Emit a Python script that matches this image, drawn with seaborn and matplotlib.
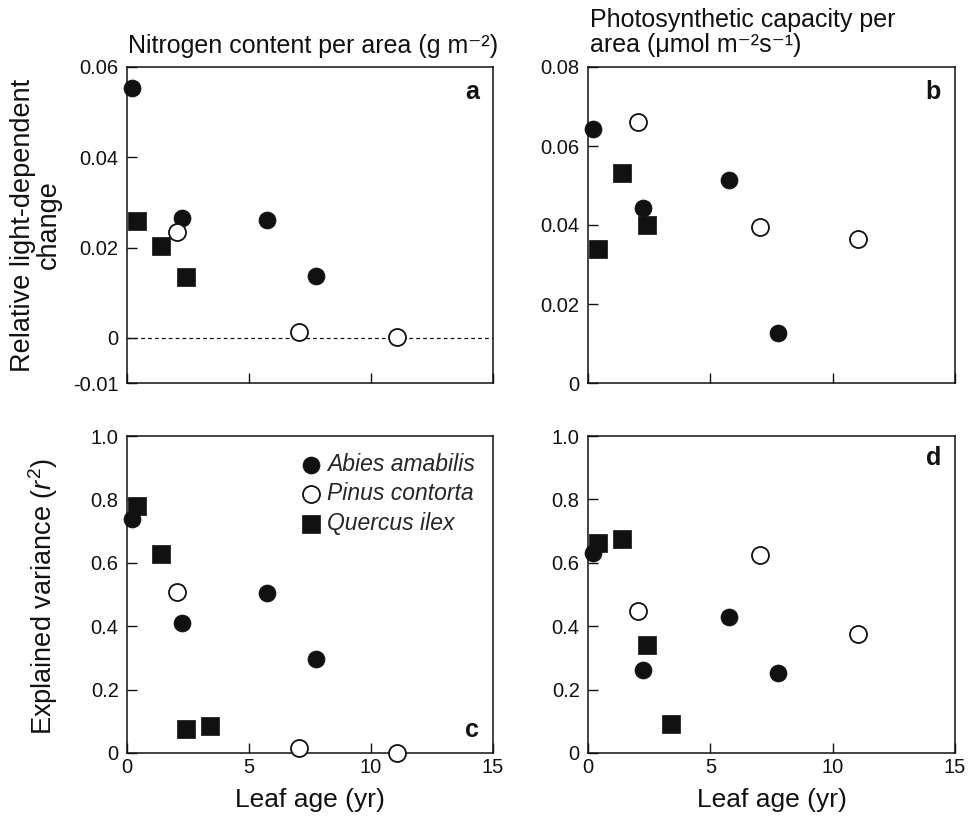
import numpy as np
import pandas as pd
import matplotlib
matplotlib.use("Agg")
import matplotlib.pyplot as plt
import seaborn as sns

# ---------------- data ----------------
species = ["Abies amabilis", "Pinus contorta", "Quercus ilex"]
age_abies = [0.2, 2.25, 5.75, 7.75]
age_pinus = [2.05, 7.05, 11.05]
age_quercus = [0.4, 1.4, 2.4, 3.4]

# a: relative light-dependent change, N per area
abies_a = [0.0553, 0.0266, 0.0262, 0.0138]
pinus_a = [0.0234, 0.0014, 0.0002]
quercus_a = [0.0258, 0.0204, 0.0134, np.nan]
# b: relative light-dependent change, photosynthetic capacity per area
abies_b = [0.0643, 0.0444, 0.0514, 0.0127]
pinus_b = [0.0662, 0.0395, 0.0364]
quercus_b = [0.0340, 0.0531, 0.0401, np.nan]
# c: explained variance, N per area
abies_c = [0.738, 0.41, 0.505, 0.296]
pinus_c = [0.508, 0.016, 0.0]
quercus_c = [0.78, 0.628, 0.076, 0.085]
# d: explained variance, photosynthetic capacity per area
abies_d = [0.63, 0.262, 0.428, 0.252]
pinus_d = [0.448, 0.625, 0.375]
quercus_d = [0.663, 0.675, 0.34, 0.09]

xticks = [0, 5, 10, 15]
yticks_a = [-0.01, 0, 0.02, 0.04, 0.06]
yticklabels_a = ["-0.01", "0", "0.02", "0.04", "0.06"]
yticks_b = [0, 0.02, 0.04, 0.06, 0.08]
yticklabels_b = ["0", "0.02", "0.04", "0.06", "0.08"]
yticks_cd = [0, 0.2, 0.4, 0.6, 0.8, 1.0]
yticklabels_cd = ["0", "0.2", "0.4", "0.6", "0.8", "1.0"]

# ---------------- style ----------------
sns.set_theme(style="ticks")
plt.rcParams["font.family"] = ["Liberation Sans", "DejaVu Sans"]
plt.rcParams["mathtext.fontset"] = "custom"
plt.rcParams["mathtext.rm"] = "Liberation Sans"
plt.rcParams["mathtext.it"] = "Liberation Sans:italic"
plt.rcParams["mathtext.bf"] = "Liberation Sans:bold"
plt.rcParams["axes.unicode_minus"] = False

W, H = 971, 824
fig = plt.figure(figsize=(W / 100, H / 100), dpi=100)


def ax_at(l, t, r, b):
    return fig.add_axes([l / W, 1 - b / H, (r - l) / W, (b - t) / H])


ax_a = ax_at(127, 67, 493, 383)
ax_b = ax_at(588, 67, 955, 383)
ax_c = ax_at(127, 436, 493, 753)
ax_d = ax_at(588, 436, 955, 753)

MS_C = 150
MS_S = 165


def draw(ax, ya, yp, yq, legend=False):
    dq = pd.DataFrame({"age": age_quercus, "val": yq})
    da = pd.DataFrame({"age": age_abies, "val": ya})
    dp = pd.DataFrame({"age": age_pinus, "val": yp})
    sns.scatterplot(data=dq, x="age", y="val", ax=ax, marker="s", s=MS_S,
                    color="#111111", edgecolor="#111111", linewidth=0.5,
                    label=species[2], zorder=3, clip_on=False)
    sns.scatterplot(data=da, x="age", y="val", ax=ax, marker="o", s=MS_C,
                    color="#111111", edgecolor="#111111", linewidth=0.5,
                    label=species[0], zorder=4, clip_on=False)
    sns.scatterplot(data=dp, x="age", y="val", ax=ax, marker="o", s=MS_C,
                    color="white", edgecolor="#111111", linewidth=1.3,
                    label=species[1], zorder=5, clip_on=False)
    ax.set_xlim(0, 15)
    ax.set_xticks(xticks)
    ax.set_xlabel("")
    ax.set_ylabel("")
    for sp in ax.spines.values():
        sp.set_visible(True)
        sp.set_linewidth(1.1)
        sp.set_color("#111111")
        sp.set_zorder(2)
    ax.tick_params(direction="in", length=7, width=1.0, color="#111111",
                   labelsize=14.5, labelcolor="#111111")
    ax.tick_params(axis="y", pad=6)
    ax.tick_params(axis="x", pad=3.5)
    if legend:
        h, l = ax.get_legend_handles_labels()
        order = [l.index(s) for s in species]
        ax.legend([h[i] for i in order], [l[i] for i in order],
                  loc="upper right", frameon=False,
                  prop={"style": "italic", "size": 16.5},
                  handletextpad=0.1, labelspacing=0.28,
                  borderaxespad=0.3, handlelength=1.2,
                  bbox_to_anchor=(0.995, 0.997))
    else:
        lg = ax.get_legend()
        if lg is not None:
            lg.remove()


draw(ax_a, abies_a, pinus_a, quercus_a)
draw(ax_b, abies_b, pinus_b, quercus_b)
draw(ax_c, abies_c, pinus_c, quercus_c, legend=True)
draw(ax_d, abies_d, pinus_d, quercus_d)

ax_a.axhline(0, color="#111111", lw=0.9, ls=(0, (3, 2.5)), zorder=1)

ax_a.set_ylim(-0.01, 0.06)
ax_a.set_yticks(yticks_a)
ax_a.set_yticklabels(yticklabels_a)
ax_b.set_ylim(0, 0.08)
ax_b.set_yticks(yticks_b)
ax_b.set_yticklabels(yticklabels_b)
for ax in (ax_c, ax_d):
    ax.set_ylim(0, 1.0)
    ax.set_yticks(yticks_cd)
    ax.set_yticklabels(yticklabels_cd)
    ax.set_xticklabels([str(v) for v in xticks])
    ax.set_xlabel("Leaf age (yr)", fontsize=19, color="#111111", labelpad=8)
for ax in (ax_a, ax_b):
    ax.set_xticklabels([])

# panel letters
for ax, letter, va, yy in ((ax_a, "a", "top", 0.96), (ax_b, "b", "top", 0.96),
                           (ax_c, "c", "bottom", 0.035), (ax_d, "d", "top", 0.97)):
    ax.text(0.962, yy, letter, transform=ax.transAxes, ha="right", va=va,
            fontsize=18, fontweight="bold", color="#111111")

# titles
fig.text(128 / W, 1 - 53 / H, "Nitrogen content per area (g m\u207b\u00b2)",
         ha="left", va="baseline", fontsize=18, color="#111111")
fig.text(590 / W, 1 - 27 / H, "Photosynthetic capacity per",
         ha="left", va="baseline", fontsize=18, color="#111111")
fig.text(590 / W, 1 - 52 / H, "area (\u03bcmol m\u207b\u00b2s\u207b\u00b9)",
         ha="left", va="baseline", fontsize=18, color="#111111")

# y labels
fig.text(36 / W, 1 - 225 / H, "Relative light-dependent\nchange", rotation=90,
         ha="center", va="center", multialignment="center", fontsize=19.5,
         color="#111111", linespacing=1.0)
fig.text(43 / W, 1 - 597 / H, "Explained variance ($r^2$)", rotation=90,
         ha="center", va="center", fontsize=19.5, color="#111111")

fig.savefig("out.png", dpi=100, facecolor="white")
